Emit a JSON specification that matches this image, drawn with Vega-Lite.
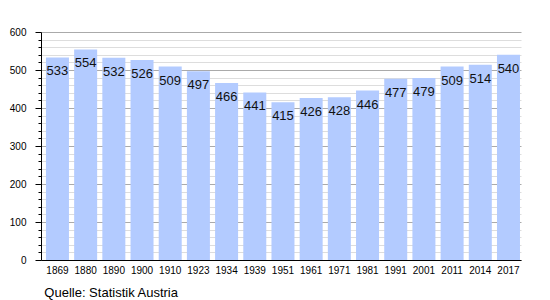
{
  "$schema": "https://vega.github.io/schema/vega-lite/v6.json",
  "width": 480,
  "height": 228,
  "autosize": "none",
  "padding": {"left": 41, "top": 32, "right": 29, "bottom": 40},
  "background": "white",
  "config": {"view": {"stroke": null}, "font": "Liberation Sans"},
  "title": {"text": "Quelle: Statistik Austria", "orient": "bottom", "anchor": "start", "fontSize": 13, "fontWeight": "normal", "color": "black", "font": "Liberation Sans", "dx": 35, "offset": 12},
  "data": {"values": [
    {"year": "1869", "value": 533},
    {"year": "1880", "value": 554},
    {"year": "1890", "value": 532},
    {"year": "1900", "value": 526},
    {"year": "1910", "value": 509},
    {"year": "1923", "value": 497},
    {"year": "1934", "value": 466},
    {"year": "1939", "value": 441},
    {"year": "1951", "value": 415},
    {"year": "1961", "value": 426},
    {"year": "1971", "value": 428},
    {"year": "1981", "value": 446},
    {"year": "1991", "value": 477},
    {"year": "2001", "value": 479},
    {"year": "2011", "value": 509},
    {"year": "2014", "value": 514},
    {"year": "2017", "value": 540}
  ]},
  "encoding": {
    "x": {"field": "year", "type": "ordinal", "sort": null,
      "scale": {"paddingInner": 0.184, "paddingOuter": 0.106, "align": 0.83},
      "axis": {"title": null, "labelAngle": 0, "ticks": false, "domainColor": "black", "labelFontSize": 10, "labelColor": "black", "labelPadding": 5}},
    "y": {"field": "value", "type": "quantitative",
      "scale": {"domain": [0, 600], "nice": false},
      "axis": {"title": null,
        "values": [0,20,40,60,80,100,120,140,160,180,200,220,240,260,280,300,320,340,360,380,400,420,440,460,480,500,520,540,560,580,600],
        "labelExpr": "datum.value % 100 === 0 ? datum.label : ''",
        "grid": true,
        "gridColor": {"condition": {"test": "datum.value % 100 === 0", "value": "#aaaaaa"}, "value": "#dddddd"},
        "tickSize": {"condition": {"test": "datum.value % 100 === 0", "value": 6}, "value": 3},
        "tickColor": "black", "domainColor": "black",
        "labelFontSize": 10, "labelColor": "black", "labelPadding": 9}}
  },
  "layer": [
    {"mark": {"type": "bar", "color": "#b3cbff"}},
    {"mark": {"type": "text", "baseline": "middle", "align": "center", "dy": 14, "fontSize": 13, "color": "#111"},
     "encoding": {"text": {"field": "value", "type": "quantitative"}}}
  ]
}
